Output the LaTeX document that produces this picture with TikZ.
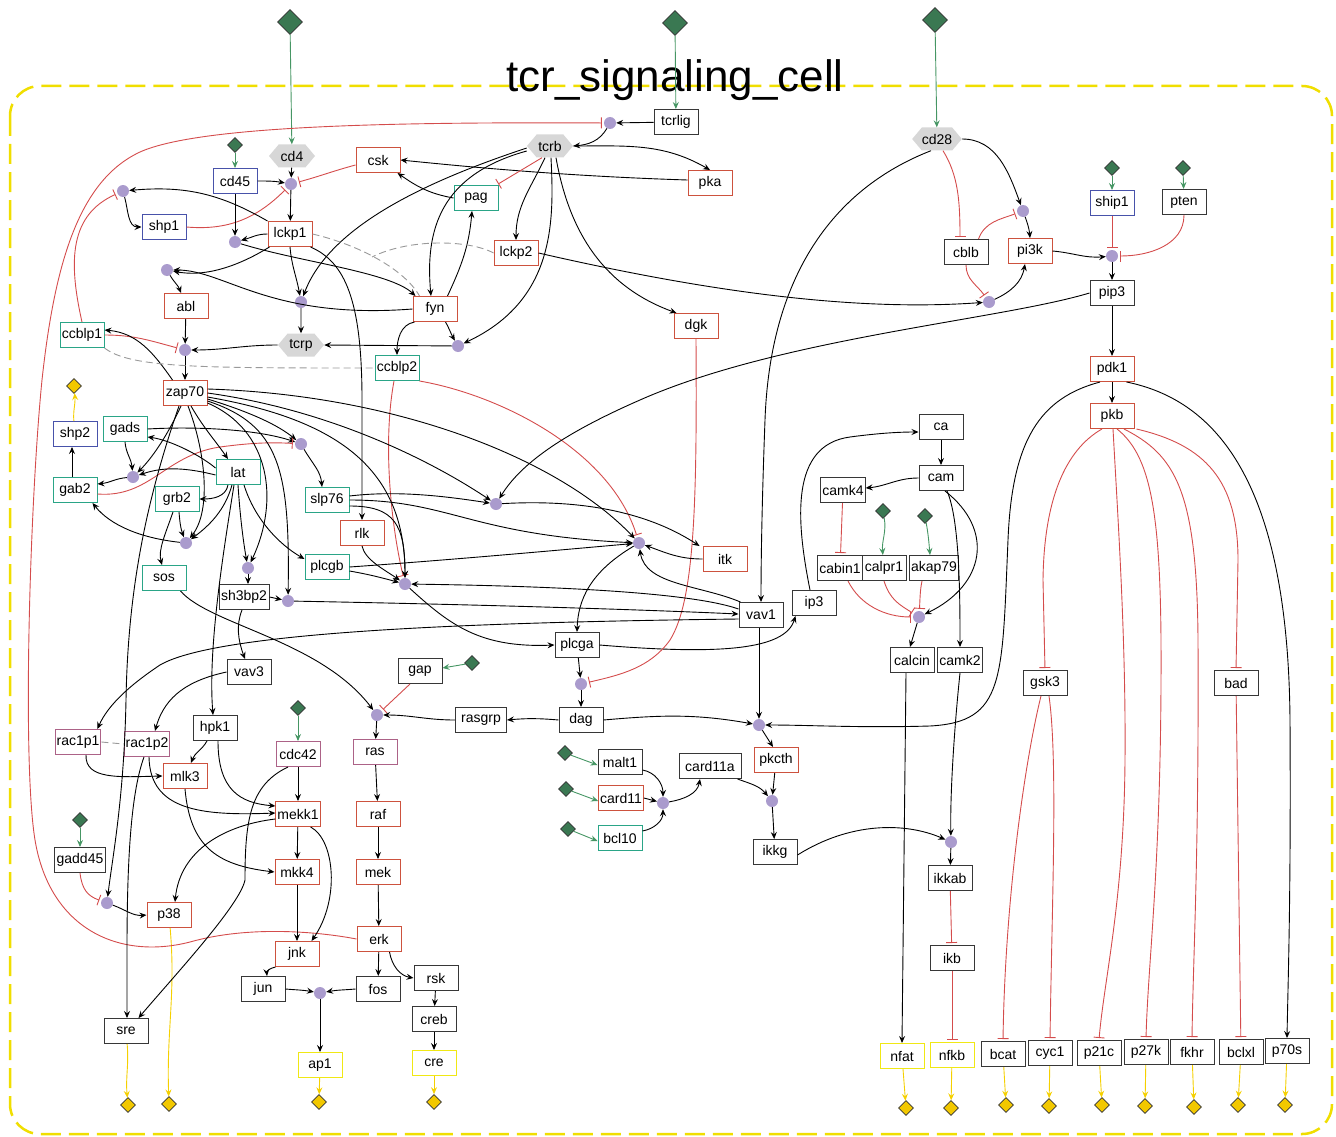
\documentclass[tikz,border=0pt]{standalone}
\usepackage{fontspec}
\setmainfont{Liberation Sans}
\usetikzlibrary{arrows.meta,shapes.geometric,shapes.symbols}

\definecolor{cRed}{RGB}{205,82,62}
\definecolor{cTeal}{RGB}{42,165,135}
\definecolor{cBlue}{RGB}{72,82,170}
\definecolor{cPink}{RGB}{172,98,135}
\definecolor{cDark}{RGB}{55,55,55}
\definecolor{cYelBox}{RGB}{240,232,20}
\definecolor{cHex}{RGB}{215,215,215}
\definecolor{cDot}{RGB}{170,155,205}
\definecolor{cGreen}{RGB}{58,120,82}
\definecolor{cGold}{RGB}{242,200,0}
\definecolor{cGreenLine}{RGB}{70,150,100}
\definecolor{cInh}{RGB}{212,76,76}
\definecolor{cYelLine}{RGB}{245,208,0}
\definecolor{cComp}{RGB}{240,222,0}

\tikzset{
  lbl/.style={font=\fontsize{14}{16}\selectfont},
  box/.style={lbl, draw, rectangle, line width=1pt, minimum width=44pt, minimum height=25pt, inner xsep=1.5pt, inner ysep=0pt},
  rbox/.style={box, draw=cRed},
  tbox/.style={box, draw=cTeal},
  bbox/.style={box, draw=cBlue},
  pbox/.style={box, draw=cPink},
  kbox/.style={box, draw=cDark},
  ybox/.style={box, draw=cYelBox},
  hexnode/.style={lbl, shape=signal, signal to=east and west, signal pointer angle=100, fill=cHex, minimum width=46pt, minimum height=23pt, inner xsep=0pt, inner ysep=1pt},
  pdot/.style={circle, fill=cDot, minimum size=12pt, inner sep=0pt},
  gsrc/.style={diamond, draw=black!80, fill=cGreen, line width=0.7pt, minimum size=15pt, inner sep=0pt},
  gbig/.style={gsrc, minimum size=25pt},
  ysink/.style={diamond, draw=black!80, fill=cGold, line width=0.7pt, minimum size=15pt, inner sep=0pt},
  act/.style={draw=black, line width=0.9pt, -{Stealth[length=7pt,width=6pt,inset=2.5pt]}},
  inh/.style={draw=cInh, line width=0.9pt, -{Bar[width=11pt]}, shorten >=2pt},
  gact/.style={draw=cGreenLine, line width=0.9pt, -{Stealth[length=7pt,width=6pt,inset=2.5pt]}},
  yact/.style={draw=cYelLine, line width=0.9pt, -{Stealth[length=7pt,width=6pt,inset=2.5pt]}},
  link/.style={draw=gray!80, line width=0.9pt, dash pattern=on 7pt off 4pt},
}

\begin{document}
\begin{tikzpicture}[x=1pt,y=1pt]
\useasboundingbox (0,0) rectangle (1336,-1137);

% cell compartment and its name
\draw[cComp, line width=2.5pt, dash pattern=on 20pt off 8pt, rounded corners=30pt] (10,-86) rectangle (1332,-1134);
\node[font=\fontsize{44}{50}\selectfont] (title) at (675,-80) {tcr\_signaling\_cell};

% ---------- source / sink markers ----------
\node[gbig] (src1) at (290,-22) {};
\node[gbig] (src2) at (675,-23) {};
\node[gbig] (src3) at (935,-20) {};
\node[gsrc] (gcd45) at (235,-145) {};
\node[gsrc] (gship1) at (1112,-168) {};
\node[gsrc] (gpten) at (1183,-168) {};
\node[gsrc] (gcalpr1) at (883,-511) {};
\node[gsrc] (gakap79) at (925,-516) {};
\node[gsrc] (ggap) at (472,-663) {};
\node[gsrc] (gcdc42) at (298,-708) {};
\node[gsrc] (ggadd45) at (80,-820) {};
\node[gsrc] (gmalt1) at (565,-753) {};
\node[gsrc] (gcard11) at (566,-789) {};
\node[gsrc] (gbcl10) at (568,-829) {};

\node[ysink] (yshp2) at (74,-386) {};
\node[ysink] (ysre) at (128,-1105) {};
\node[ysink] (yp38) at (169,-1104) {};
\node[ysink] (yap1) at (319,-1102) {};
\node[ysink] (ycre) at (434,-1102) {};
\node[ysink] (ynfat) at (906,-1108) {};
\node[ysink] (ynfkb) at (951,-1108) {};
\node[ysink] (ybcat) at (1006,-1105) {};
\node[ysink] (ycyc1) at (1049,-1106) {};
\node[ysink] (yp21c) at (1102,-1105) {};
\node[ysink] (yp27k) at (1145,-1106) {};
\node[ysink] (yfkhr) at (1194,-1107) {};
\node[ysink] (ybclxl) at (1238,-1105) {};
\node[ysink] (yp70s) at (1285,-1105) {};

% ---------- species ----------
\node[kbox] (tcrlig) at (676,-122) {tcrlig};
\node[hexnode] (tcrb) at (550,-146) {tcrb};
\node[rbox] (pka) at (710,-183) {pka};
\node[rbox] (csk) at (378,-160) {csk};
\node[hexnode] (cd4) at (292,-156) {cd4};
\node[bbox] (cd45) at (235,-181) {cd45};
\node[bbox] (shp1) at (164,-227) {shp1};
\node[tbox] (pag) at (476,-198) {pag};
\node[rbox] (lckp1) at (290,-234) {lckp1};
\node[rbox] (lckp2) at (516,-253) {lckp2};
\node[rbox] (abl) at (186,-306) {abl};
\node[rbox] (fyn) at (435,-309) {fyn};
\node[rbox] (dgk) at (696,-326) {dgk};
\node[hexnode] (tcrp) at (301,-345) {tcrp};
\node[tbox] (ccblp1) at (82,-335) {ccblp1};
\node[tbox] (ccblp2) at (397,-368) {ccblp2};
\node[rbox] (zap70) at (185,-393) {zap70};
\node[bbox] (shp2) at (75,-434) {shp2};
\node[tbox] (gads) at (125,-429) {gads};
\node[tbox] (lat) at (238,-472) {lat};
\node[tbox] (gab2) at (75,-490) {gab2};
\node[tbox] (grb2) at (177,-499) {grb2};
\node[tbox] (slp76) at (327,-500) {slp76};
\node[rbox] (rlk) at (362,-533) {rlk};
\node[tbox] (plcgb) at (327,-567) {plcgb};
\node[tbox] (sos) at (164,-578) {sos};
\node[kbox, minimum width=50pt] (sh3bp2) at (244,-597) {sh3bp2};
\node[rbox] (itk) at (725,-559) {itk};
\node[kbox] (vav1) at (761,-615) {vav1};
\node[kbox] (ip3) at (814,-603) {ip3};
\node[kbox] (plcga) at (577,-645) {plcga};
\node[kbox] (vav3) at (249,-672) {vav3};
\node[kbox] (gap) at (420,-671) {gap};
\node[pbox] (rac1p1) at (78,-742) {rac1p1};
\node[pbox] (rac1p2) at (147,-744) {rac1p2};
\node[kbox] (hpk1) at (215,-728) {hpk1};
\node[rbox] (mlk3) at (185,-776) {mlk3};
\node[pbox] (cdc42) at (298,-754) {cdc42};
\node[pbox] (ras) at (375,-752) {ras};
\node[kbox, minimum width=51pt] (rasgrp) at (481,-720) {rasgrp};
\node[kbox] (dag) at (581,-720) {dag};
\node[kbox] (malt1) at (620,-762) {malt1};
\node[rbox] (card11) at (621,-798) {card11};
\node[tbox] (bcl10) at (620,-838) {bcl10};
\node[kbox, minimum width=62pt] (card11a) at (710,-766) {card11a};
\node[rbox] (pkcth) at (776,-760) {pkcth};
\node[kbox] (ikkg) at (775,-852) {ikkg};
\node[rbox] (mekk1) at (298,-814) {mekk1};
\node[rbox] (raf) at (378,-814) {raf};
\node[rbox] (mkk4) at (297,-872) {mkk4};
\node[rbox] (mek) at (378,-872) {mek};
\node[kbox, minimum width=51pt] (gadd45) at (80,-860) {gadd45};
\node[rbox] (p38) at (169,-915) {p38};
\node[rbox] (erk) at (379,-939) {erk};
\node[rbox] (jnk) at (297,-954) {jnk};
\node[kbox] (jun) at (263,-989) {jun};
\node[kbox] (fos) at (378,-989) {fos};
\node[kbox] (rsk) at (436,-978) {rsk};
\node[kbox] (creb) at (434,-1019) {creb};
\node[kbox] (sre) at (126,-1031) {sre};
\node[ybox] (ap1) at (320,-1065) {ap1};
\node[ybox] (cre) at (434,-1063) {cre};
\node[hexnode] (cd28) at (937,-139) {cd28};
\node[bbox] (ship1) at (1112,-203) {ship1};
\node[kbox] (pten) at (1184,-202) {pten};
\node[kbox] (cblb) at (966,-252) {cblb};
\node[rbox] (pi3k) at (1030,-251) {pi3k};
\node[kbox] (pip3) at (1112,-293) {pip3};
\node[rbox] (pdk1) at (1112,-369) {pdk1};
\node[rbox] (pkb) at (1112,-416) {pkb};
\node[kbox] (ca) at (941,-427) {ca};
\node[kbox] (cam) at (941,-478) {cam};
\node[kbox] (camk4) at (843,-490) {camk4};
\node[kbox] (cabin1) at (840,-568) {cabin1};
\node[kbox] (calpr1) at (884,-568) {calpr1};
\node[kbox, minimum width=49pt] (akap79) at (934,-568) {akap79};
\node[kbox] (calcin) at (912,-660) {calcin};
\node[kbox] (camk2) at (960,-660) {camk2};
\node[kbox] (ikkab) at (950,-878) {ikkab};
\node[kbox] (ikb) at (952,-958) {ikb};
\node[kbox] (gsk3) at (1045,-683) {gsk3};
\node[kbox] (bad) at (1236,-683) {bad};
\node[ybox] (nfat) at (902,-1056) {nfat};
\node[ybox] (nfkb) at (952,-1055) {nfkb};
\node[kbox] (bcat) at (1003,-1054) {bcat};
\node[kbox] (cyc1) at (1050,-1053) {cyc1};
\node[kbox] (p21c) at (1099,-1053) {p21c};
\node[kbox] (p27k) at (1146,-1052) {p27k};
\node[kbox] (fkhr) at (1192,-1052) {fkhr};
\node[kbox] (bclxl) at (1241,-1052) {bclxl};
\node[kbox] (p70s) at (1287,-1051) {p70s};

% ---------- process dots ----------
\node[pdot] (dA) at (610,-123) {};
\node[pdot] (dB) at (291,-184) {};
\node[pdot] (dC) at (123,-191) {};
\node[pdot] (dD) at (235,-242) {};
\node[pdot] (dE) at (167,-270) {};
\node[pdot] (dF) at (301,-302) {};
\node[pdot] (dG) at (458,-346) {};
\node[pdot] (dH) at (185,-350) {};
\node[pdot] (dI) at (301,-444) {};
\node[pdot] (dJ) at (133,-477) {};
\node[pdot] (dK) at (186,-543) {};
\node[pdot] (dL) at (248,-568) {};
\node[pdot] (dM) at (288,-601) {};
\node[pdot] (dN) at (405,-584) {};
\node[pdot] (dO) at (496,-504) {};
\node[pdot] (dP) at (639,-543) {};
\node[pdot] (dQ) at (581,-684) {};
\node[pdot] (dR) at (377,-715) {};
\node[pdot] (dS) at (759,-725) {};
\node[pdot] (dT) at (772,-801) {};
\node[pdot] (dU) at (663,-803) {};
\node[pdot] (dV) at (951,-842) {};
\node[pdot] (dW) at (1112,-256) {};
\node[pdot] (dX) at (1023,-211) {};
\node[pdot] (dY) at (989,-302) {};
\node[pdot] (dZ) at (919,-617) {};
\node[pdot] (dP38) at (107,-903) {};
\node[pdot] (dAA) at (320,-993) {};
\coordinate (dj) at (372,-257);

% ---------- inputs from outside ----------
\draw[gact] (src1) -- (cd4);
\draw[gact] (src2) -- (tcrlig);
\draw[gact] (src3) -- (cd28);
\draw[gact] (gcd45) -- (cd45);
\draw[gact] (gship1) -- (ship1);
\draw[gact] (gpten) -- (pten);
\draw[gact] (gcalpr1) to[out=-80,in=95] (calpr1);
\draw[gact] (gakap79) to[out=-80,in=95] ([xshift=-4pt]akap79.north);
\draw[gact] (ggap) -- ([yshift=3pt]gap.east);
\draw[gact] (gcdc42) -- (cdc42);
\draw[gact] (ggadd45) -- (gadd45);
\draw[gact] (gmalt1) -- ([yshift=-3pt]malt1.west);
\draw[gact] (gcard11) -- ([yshift=-3pt]card11.west);
\draw[gact] (gbcl10) -- ([yshift=-3pt]bcl10.west);

% ---------- outputs ----------
\draw[yact] (shp2) to[out=95,in=-85] (yshp2);
\draw[yact] (sre) to[out=-85,in=95] (ysre);
\draw[yact] (p38) to[out=-85,in=92] (yp38);
\draw[yact] (ap1) -- (yap1);
\draw[yact] (cre) -- (ycre);
\draw[yact] (nfat) -- (ynfat);
\draw[yact] (nfkb) -- (ynfkb);
\draw[yact] (bcat) -- (ybcat);
\draw[yact] (cyc1) -- (ycyc1);
\draw[yact] (p21c) -- (yp21c);
\draw[yact] (p27k) -- (yp27k);
\draw[yact] (fkhr) -- (yfkhr);
\draw[yact] (bclxl) -- (ybclxl);
\draw[yact] (p70s) -- (yp70s);

% ---------- receptor module ----------
\draw[act] (tcrlig) -- (dA);
\draw[act] (dA) to[out=-120,in=5] (tcrb.east);
\draw[inh] (erk.west) .. controls (320,-932) and (250,-925) .. (190,-942)
  .. controls (120,-960) and (50,-930) .. (35,-840)
  .. controls (22,-760) and (30,-500) .. (42,-380)
  .. controls (55,-260) and (80,-180) .. (140,-152)
  .. controls (200,-125) and (400,-122) .. (dA);
\draw[act] (cd4) -- (dB);
\draw[act] (cd45.east) to[out=0,in=170] (dB);
\draw[inh] ([yshift=-5pt]csk.west) to[out=195,in=15] (dB);
\draw[inh] (shp1.east) to[out=-5,in=225] (dB);
\draw[act] (dB) -- (lckp1);
\draw[act] (lckp1.north west) to[out=150,in=5] (dC);
\draw[act] (dC) to[out=-75,in=180] (shp1.west);
\draw[inh] (ccblp1.north) .. controls (68,-260) and (70,-215) .. (dC);
\draw[act] (cd45) -- (dD);
\draw[act] (lckp1.west) to[out=180,in=15] (dD);
\draw[act] (dD) .. controls (300,-262) and (390,-272) .. ([xshift=3pt]fyn.north west);
\draw[act] ([xshift=2pt]lckp1.south west) .. controls (245,-262) and (210,-278) .. (dE);
\draw[act] (fyn.west) .. controls (270,-320) and (225,-270) .. (dE);
\draw[act] (dE) to[out=-60,in=110] ([xshift=-5pt]abl.north);
\draw[act] (abl) -- (dH);
\draw[act] (tcrp.west) to[out=180,in=0] (dH);
\draw[inh] (ccblp1.east) to[out=0,in=165] (dH);
\draw[act] (dH) -- (zap70);
\draw[act] ([xshift=10pt]zap70.north west) to[out=125,in=-5] ([yshift=5pt]ccblp1.east);
\draw[act] (lckp1.south) to[out=-85,in=100] (dF);
\draw[act] ([yshift=-2pt]tcrb.west) .. controls (430,-180) and (330,-225) .. (dF);
\draw[act] (dF) -- (tcrp);
\draw[act] ([yshift=-5pt]tcrb.west) .. controls (440,-175) and (425,-230) .. ([xshift=-4pt]fyn.north);
\draw[act] ([xshift=-10pt]fyn.north east) to[out=65,in=-95] ([xshift=-4pt]pag.south);
\draw[act] (pag.west) to[out=170,in=-35] ([xshift=-3pt]csk.south east);
\draw[act] ([yshift=3pt]pka.west) .. controls (560,-176) and (460,-166) .. (csk.east);
\draw[act] (tcrb.east) to[out=0,in=150] (pka.north);
\draw[inh] ([xshift=-8pt]tcrb.south) -- ([xshift=-2pt]pag.north east);
\draw[act] ([xshift=-5pt]tcrb.south) to[out=-115,in=90] (lckp2.north);
\draw[act] ([xshift=1pt]tcrb.south) .. controls (554,-220) and (556,-300) .. (dG);
\draw[act] ([xshift=6pt]tcrb.south) to[out=-80,in=160] ([xshift=3pt]dgk.north west);
\draw[act] ([xshift=-12pt]fyn.south east) to[out=-60,in=120] (dG);
\draw[act] (dG) -- (tcrp.east);
\draw[act] ([xshift=2pt]fyn.south west) to[out=190,in=90] (ccblp2.north);
\draw[link] (ccblp1.south east) .. controls (130,-368) and (200,-368) .. (ccblp2.west);
\draw[link] (lckp1.east) .. controls (360,-245) and (405,-270) .. ([xshift=7pt]fyn.north west);
\draw[link] (lckp2.west) .. controls (470,-240) and (410,-238) .. (dj);
\draw[act] (lckp2.east) .. controls (700,-290) and (850,-312) .. (dY);
\draw[act] ([xshift=-2pt]lckp1.south east) .. controls (345,-262) and (362,-300) .. (362,-400) -- (rlk.north);
\draw[inh] ([xshift=-3pt]ccblp2.south) .. controls (383,-440) and (390,-520) .. (dN);
\draw[inh] (ccblp2.south east) .. controls (500,-395) and (610,-450) .. (dP);

% ---------- cd28 / pi3k / pkb ----------
\draw[act] (cd28.east) to[out=0,in=110] (dX);
\draw[inh] ([xshift=6pt]cd28.south) .. controls (958,-175) and (960,-200) .. ([xshift=-6pt]cblb.north);
\draw[inh] ([xshift=-10pt]cblb.north east) to[out=70,in=200] (dX);
\draw[act] (dX) to[out=-70,in=95] (pi3k.north);
\draw[inh] (cblb.south) to[out=-90,in=125] (dY);
\draw[act] (dY) to[out=25,in=-100] ([xshift=-5pt]pi3k.south);
\draw[act] (pi3k.east) to[out=-5,in=185] (dW);
\draw[inh] (ship1) -- (dW);
\draw[inh] (pten.south) to[out=-90,in=0] (dW);
\draw[act] (dW) -- (pip3);
\draw[act] (pip3) -- (pdk1);
\draw[act] (pdk1) -- (pkb);
\draw[act] ([xshift=-8pt]pdk1.south east) .. controls (1215,-400) and (1288,-480) .. (1290,-720)
  .. controls (1291,-900) and (1288,-980) .. (p70s.north);
\draw[act] ([xshift=-12pt]pdk1.south) .. controls (1040,-398) and (1012,-440) .. (1008,-540)
  .. controls (1002,-680) and (1005,-722) .. (930,-726)
  .. controls (860,-728) and (810,-725) .. (dS);
\draw[inh] ([xshift=-10pt]pkb.south) .. controls (1065,-450) and (1044,-500) .. (1043,-580) -- (gsk3.north);
\draw[inh] ([xshift=1pt]pkb.south) .. controls (1118,-520) and (1126,-640) .. (1125,-760)
  .. controls (1124,-900) and (1104,-980) .. (p21c.north);
\draw[inh] ([xshift=5pt]pkb.south) .. controls (1150,-455) and (1160,-510) .. (1161,-640)
  .. controls (1162,-860) and (1148,-960) .. (p27k.north);
\draw[inh] ([xshift=12pt]pkb.south) .. controls (1175,-455) and (1197,-490) .. (1198,-640)
  .. controls (1199,-860) and (1193,-960) .. (fkhr.north);
\draw[inh] ([xshift=2pt]pkb.south east) .. controls (1205,-445) and (1238,-480) .. (1238,-560) -- (bad.north);
\draw[inh] ([xshift=-4pt]gsk3.south) .. controls (1025,-760) and (1005,-900) .. (bcat.north);
\draw[inh] ([xshift=4pt]gsk3.south) .. controls (1058,-760) and (1052,-900) .. (cyc1.north);
\draw[inh] (bad) -- (bclxl);

% ---------- calcium branch ----------
\draw[act] ([xshift=-6pt]cd28.south) .. controls (830,-190) and (770,-280) .. (765,-420)
  .. controls (762,-500) and (761,-560) .. (vav1.north);
\draw[act] ([xshift=-4pt]ip3.north) .. controls (796,-520) and (790,-445) .. (850,-437)
  .. controls (880,-433) and (900,-432) .. ([yshift=-5pt]ca.west);
\draw[act] (ca) -- (cam);
\draw[act] (cam.west) to[out=180,in=5] ([yshift=2pt]camk4.east);
\draw[act] ([xshift=4pt]cam.south) .. controls (995,-530) and (985,-585) .. (dZ);
\draw[act] ([xshift=6pt]cam.south) .. controls (960,-520) and (960,-600) .. (camk2.north);
\draw[inh] (camk4) -- (cabin1);
\draw[inh] ([xshift=8pt]cabin1.south) .. controls (860,-605) and (885,-617) .. (dZ);
\draw[inh] (calpr1.south) .. controls (890,-600) and (900,-605) .. (dZ);
\draw[inh] ([xshift=-12pt]akap79.south) .. controls (920,-590) and (920,-600) .. (dZ);
\draw[act] (dZ) -- ([xshift=-2pt]calcin.north);
\draw[act] ([xshift=-6pt]calcin.south) -- (nfat.north);
\draw[act] (camk2.south) .. controls (955,-720) and (950,-790) .. (dV);
\draw[act] (dV) -- (ikkab);
\draw[inh] (ikkab) -- (ikb);
\draw[inh] (ikb) -- (nfkb);

% ---------- plc / dag / pkc ----------
\draw[act] (plcga.east) .. controls (720,-655) and (785,-650) .. ([xshift=4pt]ip3.south west);
\draw[act] (plcga) -- (dQ);
\draw[inh] (dgk.south) .. controls (697,-500) and (695,-600) .. (670,-640)
  .. controls (650,-668) and (620,-675) .. (dQ);
\draw[act] (dQ) -- (dag);
\draw[act] (dag.west) to[out=175,in=5] (rasgrp.east);
\draw[act] (rasgrp.west) to[out=180,in=0] (dR);
\draw[inh] ([xshift=-10pt]gap.south) -- (dR);
\draw[act] (dag.east) to[out=5,in=170] (dS);
\draw[act] ([xshift=-2pt]vav1.south) -- (dS);
\draw[act] (dS) -- ([xshift=-3pt]pkcth.north);
\draw[act] (pkcth) -- (dT);
\draw[act] ([xshift=-4pt]card11a.south east) to[out=-20,in=130] (dT);
\draw[act] (dT) -- (ikkg);
\draw[act] ([yshift=-3pt]ikkg.east) .. controls (850,-822) and (905,-822) .. (dV);
\draw[act] ([yshift=-8pt]malt1.east) to[out=-10,in=90] (dU);
\draw[act] (card11.east) -- (dU);
\draw[act] ([yshift=7pt]bcl10.east) to[out=10,in=-90] (dU);
\draw[act] (dU) to[out=10,in=-100] ([xshift=-10pt]card11a.south);

% ---------- zap70 / lat complex ----------
\draw[act] (dI) to[out=-60,in=95] ([xshift=-5pt]slp76.north);
\draw[act] ([yshift=-6pt]zap70.east) .. controls (250,-412) and (278,-425) .. (dI);
\draw[act] (gads.east) .. controls (200,-426) and (260,-430) .. (dI);
\draw[inh] ([yshift=-4pt]gab2.east) .. controls (150,-498) and (165,-455) .. (220,-447)
  .. controls (250,-443) and (270,-442) .. (dI);
\draw[act] ([xshift=-4pt]zap70.south) .. controls (170,-430) and (155,-455) .. (dJ);
\draw[act] (gads.south) to[out=-85,in=95] (dJ);
\draw[act] ([yshift=-3pt]lat.west) .. controls (180,-466) and (160,-468) .. (dJ);
\draw[act] ([yshift=4pt]lat.west) .. controls (200,-455) and (170,-440) .. ([yshift=-8pt]gads.east);
\draw[act] (dJ) to[out=185,in=5] ([yshift=6pt]gab2.east);
\draw[act] ([xshift=6pt]zap70.south) to[out=-60,in=125] ([xshift=-10pt]lat.north);
\draw[act] ([xshift=3pt]zap70.south) .. controls (205,-450) and (212,-510) .. (dK);
\draw[act] ([xshift=-6pt]lat.south) .. controls (225,-510) and (210,-525) .. (dK);
\draw[act] ([xshift=2pt]grb2.south) to[out=-85,in=110] (dK);
\draw[act] ([xshift=-10pt]lat.south) to[out=-100,in=0] (grb2.east);
\draw[act] (dK) .. controls (140,-538) and (110,-525) .. ([xshift=-5pt]gab2.south east);
\draw[act] ([xshift=-4pt]grb2.south) .. controls (165,-535) and (158,-550) .. ([xshift=-2pt]sos.north);
\draw[act] ([xshift=-3pt]gab2.north) -- ([xshift=-3pt]shp2.south);
\draw[act] (lat.south) .. controls (240,-515) and (243,-540) .. (dL);
\draw[act] ([yshift=-10pt]zap70.east) .. controls (270,-430) and (280,-500) .. (dL);
\draw[act] ([yshift=-8pt]zap70.east) .. controls (280,-425) and (290,-470) .. (dM);
\draw[act] ([yshift=-4pt]zap70.east) .. controls (340,-420) and (405,-470) .. (dN);
\draw[act] (zap70.east) .. controls (330,-410) and (430,-460) .. (dO);
\draw[act] ([yshift=4pt]zap70.east) .. controls (400,-395) and (560,-460) .. (dP);
\draw[act] ([xshift=6pt]lat.south) .. controls (255,-520) and (280,-545) .. ([yshift=8pt]plcgb.west);
\draw[act] ([xshift=-4pt]lat.south) .. controls (222,-560) and (208,-650) .. ([xshift=-2pt]hpk1.north);
\draw[act] ([yshift=-4pt]plcgb.east) to[out=-10,in=165] (dN);
\draw[act] (plcgb.east) .. controls (450,-560) and (560,-550) .. (dP);
\draw[act] (rlk.south) .. controls (365,-560) and (385,-570) .. (dN);
\draw[act] ([yshift=4pt]slp76.east) .. controls (400,-490) and (450,-497) .. (dO);
\draw[act] (slp76.east) .. controls (450,-500) and (470,-535) .. (dP);
\draw[act] ([yshift=-6pt]slp76.east) .. controls (395,-506) and (405,-525) .. (dN);
\draw[act] (pip3.west) .. controls (1000,-320) and (780,-338) .. (640,-400)
  .. controls (560,-435) and (520,-465) .. (dO);
\draw[act] (dO) .. controls (600,-498) and (660,-520) .. ([xshift=-3pt]itk.north west);
\draw[act] (itk.west) to[out=180,in=-20] (dP);
\draw[act] (dP) .. controls (590,-572) and (578,-600) .. (plcga.north);
\draw[act] (dN) .. controls (450,-625) and (480,-648) .. (plcga.west);
\draw[act] (dL) -- ([xshift=4pt]sh3bp2.north);
\draw[act] (sh3bp2.east) -- (dM);
\draw[act] (dM) .. controls (500,-605) and (650,-610) .. ([yshift=1pt]vav1.west);
\draw[act] ([yshift=6pt]vav1.west) .. controls (690,-592) and (550,-586) .. (dN);
\draw[act] ([xshift=2pt]vav1.north west) .. controls (700,-585) and (645,-585) .. (dP);
\draw[act] ([xshift=-2pt]sh3bp2.south) .. controls (236,-625) and (238,-640) .. ([xshift=-4pt]vav3.north);

% ---------- ras / map kinase cascades ----------
\draw[act] ([xshift=-6pt]sos.south east) .. controls (210,-625) and (320,-640) .. (dR);
\draw[act] (dR) -- (ras);
\draw[act] (ras) -- (raf);
\draw[act] (raf) -- (mek);
\draw[act] (mek) -- (erk);
\draw[act] (erk) -- (fos);
\draw[act] ([xshift=-12pt]erk.south east) to[out=-80,in=170] (rsk.west);
\draw[act] (rsk) -- (creb);
\draw[act] (creb) -- (cre);
\draw[act] (jun.east) to[out=-5,in=170] (dAA);
\draw[act] (fos.west) to[out=185,in=10] (dAA);
\draw[act] (dAA) -- (ap1);
\draw[act] ([xshift=1pt]jnk.south west) to[out=190,in=95] ([xshift=4pt]jun.north);
\draw[act] (mkk4) -- (jnk);
\draw[act] ([xshift=-10pt]mekk1.south east) .. controls (335,-840) and (340,-900) .. ([xshift=-8pt]jnk.north east);
\draw[act] (mekk1) -- (mkk4);
\draw[act] (cdc42) -- (mekk1);
\draw[act] ([yshift=-5pt]mekk1.west) .. controls (225,-825) and (180,-850) .. ([xshift=6pt]p38.north);
\draw[act] (mlk3.south) .. controls (190,-845) and (215,-865) .. (mkk4.west);
\draw[act] ([xshift=-8pt]hpk1.south) to[out=-120,in=70] ([xshift=6pt]mlk3.north);
\draw[act] ([xshift=3pt]hpk1.south) .. controls (218,-790) and (240,-803) .. ([yshift=8pt]mekk1.west);
\draw[act] ([xshift=8pt]rac1p1.south) .. controls (85,-780) and (120,-777) .. (mlk3.west);
\draw[act] ([xshift=2pt]rac1p2.south) .. controls (150,-810) and (200,-816) .. ([yshift=1pt]mekk1.west);
\draw[act] ([xshift=-3pt]rac1p2.south) .. controls (132,-790) and (127,-850) .. (127,-950) -- ([xshift=1pt]sre.north);
\draw[act] ([xshift=-10pt]cdc42.south) .. controls (250,-785) and (245,-820) .. (245,-880)
  .. controls (240,-905) and (175,-975) .. ([xshift=-10pt]sre.north east);
\draw[act] ([xshift=-6pt]zap70.south) .. controls (150,-490) and (128,-580) .. (126,-700)
  .. controls (124,-800) and (112,-860) .. (dP38);
\draw[inh] (gadd45.south) .. controls (82,-890) and (88,-896) .. (dP38);
\draw[act] (dP38) to[out=-20,in=185] (p38.west);
\draw[act] (vav3.west) .. controls (190,-680) and (165,-695) .. ([xshift=8pt]rac1p2.north);
\draw[act] ([yshift=-4pt]vav1.west) .. controls (500,-622) and (220,-630) .. (160,-665)
  .. controls (130,-685) and (108,-705) .. ([xshift=-4pt]rac1p1.north east);
\draw[link] (rac1p1.east) -- (rac1p2.west);
\end{tikzpicture}
\end{document}
